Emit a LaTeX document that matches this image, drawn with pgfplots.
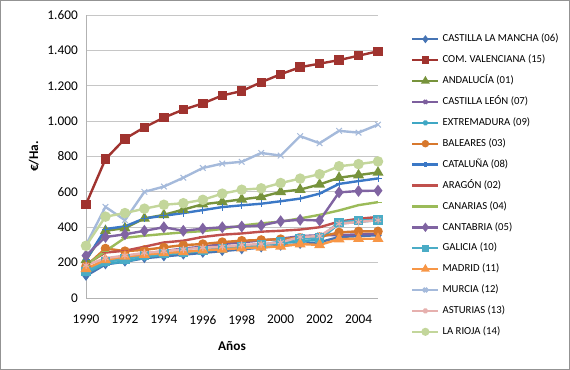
\documentclass[border=0pt]{standalone}
\usepackage{fontspec}
\setmainfont{Carlito}
\usepackage{pgfplots}
\usepackage{pgfplotstable}
\pgfplotsset{compat=1.18}
\definecolor{cclm}{HTML}{4674B4}
\definecolor{cval}{HTML}{A0332F}
\definecolor{cand}{HTML}{77933C}
\definecolor{ccyl}{HTML}{7D5F9E}
\definecolor{cext}{HTML}{3FA7C4}
\definecolor{cbal}{HTML}{D7782D}
\definecolor{ccat}{HTML}{3B78C6}
\definecolor{cara}{HTML}{C0504D}
\definecolor{ccan}{HTML}{9BBB59}
\definecolor{ccant}{HTML}{8064A2}
\definecolor{cgal}{HTML}{4BACC6}
\definecolor{cmad}{HTML}{F79646}
\definecolor{cmur}{HTML}{A5BADB}
\definecolor{cast}{HTML}{E6B0AE}
\definecolor{crio}{HTML}{C3D69B}
\pgfplotstableread{
year clm val and cyl ext bal cat ara can cant gal mad mur ast rio
1990 125 530 215 160 140 180 215 190 185 240 150 165 300 185 295
1991 190 785 380 215 195 280 390 257 265 345 205 215 515 225 460
1992 205 900 395 235 205 265 405 267 340 360 220 235 440 240 480
1993 225 965 450 250 230 272 450 290 352 380 240 245 600 255 505
1994 235 1020 470 265 245 286 465 314 362 400 250 255 630 265 527
1995 245 1065 500 280 255 299 480 324 371 380 260 260 680 275 536
1996 255 1100 530 290 265 305 497 345 378 392 270 270 735 285 555
1997 265 1145 543 305 275 316 514 358 390 400 280 275 760 290 590
1998 275 1170 558 315 285 324 524 365 410 404 290 282 770 300 612
1999 285 1220 571 325 300 328 533 375 422 410 300 286 820 305 620
2000 295 1265 600 335 310 333 547 380 432 434 320 292 805 315 650
2001 305 1305 613 350 320 340 562 387 450 442 335 305 915 345 675
2002 315 1325 642 355 330 345 590 400 470 438 340 300 875 350 700
2003 345 1345 680 355 420 371 645 432 495 597 428 333 945 420 745
2004 350 1370 695 360 430 377 661 448 525 605 438 335 935 430 757
2005 355 1395 710 362 440 377 676 458 542 607 440 335 980 440 772
}\datatab
\begin{document}
\begin{tikzpicture}
\useasboundingbox (0,0) rectangle (570bp,370bp);
\draw[gray!85, line width=0.8bp] (0.4bp,0.4bp) rectangle (569.6bp,369.6bp);
\begin{axis}[
  at={(86bp,72bp)}, anchor=south west,
  scale only axis, width=292bp, height=283bp,
  xmin=1990, xmax=2005, ymin=0, ymax=1600,
  ytick={0,200,...,1600}, xtick={1990,1992,...,2004},
  axis lines*=left,
  axis line style={draw=gray!60, line width=0.8bp},
  ymajorgrids, grid style={gray!45, line width=0.8bp},
  major tick length=0pt,
  clip=false,
  /pgf/number format/.cd, assume math mode=true, 1000 sep={.},
  /pgfplots/.cd,
  tick label style={font=\fontsize{13.3bp}{16bp}\selectfont},
  xticklabel style={/pgf/number format/1000 sep={}, anchor=north, inner sep=0pt, yshift=-17bp},
  yticklabel style={anchor=east, inner sep=0pt, xshift=-8bp},
  xlabel={Años}, ylabel={€/Ha.},
  label style={font=\bfseries\fontsize{13.3bp}{16bp}\selectfont},
  xlabel style={at={(axis description cs:0.5,0)}, anchor=base, yshift=-52bp},
  ylabel style={at={(axis description cs:0,0.5)}, anchor=base, yshift=48bp},
  every axis plot/.append style={line width=2.4bp},
  legend style={at={(1.113,0.9337)}, anchor=north west, draw=none, fill=none, inner sep=0pt,
    font=\fontsize{10.7bp}{12bp}\selectfont, row sep=10.4bp, column sep=3bp,
    nodes={inner sep=0pt, text height=8bp, text depth=2.5bp}},
  legend cell align=left,
  legend image code/.code={\draw[mark repeat=2, mark phase=2, mark options={scale=0.7}] plot coordinates {(0bp,0bp) (13bp,0bp) (26bp,0bp)};},
]
\addplot[color=cclm, mark=diamond*, mark size=3bp] table[x=year,y=clm]{\datatab};
\addlegendentry{CASTILLA LA MANCHA (06)}
\addplot[color=cval, mark=square*, mark size=3.5bp] table[x=year,y=val]{\datatab};
\addlegendentry{COM. VALENCIANA (15)}
\addplot[color=cand, mark=triangle*, mark size=4bp] table[x=year,y=and]{\datatab};
\addlegendentry{ANDALUCÍA (01)}
\addplot[color=ccyl, mark=x, mark size=3.5bp, mark options={line width=1bp}] table[x=year,y=cyl]{\datatab};
\addlegendentry{CASTILLA LEÓN (07)}
\addplot[color=cext, mark=asterisk, mark size=3.5bp, mark options={line width=1bp}] table[x=year,y=ext]{\datatab};
\addlegendentry{EXTREMADURA (09)}
\addplot[color=cbal, mark=*, mark size=3.5bp] table[x=year,y=bal]{\datatab};
\addlegendentry{BALEARES (03)}
\addplot[color=ccat, mark=+, mark size=3.5bp, mark options={line width=1bp}] table[x=year,y=cat]{\datatab};
\addlegendentry{CATALUÑA (08)}
\addplot[color=cara, mark=-, mark size=3.5bp, mark options={line width=1bp}] table[x=year,y=ara]{\datatab};
\addlegendentry{ARAGÓN (02)}
\addplot[color=ccan, mark=-, mark size=3.5bp, mark options={line width=1bp}] table[x=year,y=can]{\datatab};
\addlegendentry{CANARIAS (04)}
\addplot[color=ccant, mark=diamond*, mark size=4bp] table[x=year,y=cant]{\datatab};
\addlegendentry{CANTABRIA (05)}
\addplot[color=cgal, mark=square*, mark size=3.5bp] table[x=year,y=gal]{\datatab};
\addlegendentry{GALICIA (10)}
\addplot[color=cmad, mark=triangle*, mark size=4bp] table[x=year,y=mad]{\datatab};
\addlegendentry{MADRID (11)}
\addplot[color=cmur, mark=x, mark size=4bp, mark options={line width=1bp}] table[x=year,y=mur]{\datatab};
\addlegendentry{MURCIA (12)}
\addplot[color=cast, mark=asterisk, mark size=3.5bp, mark options={line width=1bp}] table[x=year,y=ast]{\datatab};
\addlegendentry{ASTURIAS (13)}
\addplot[color=crio, mark=*, mark size=4bp] table[x=year,y=rio]{\datatab};
\addlegendentry{LA RIOJA (14)}
\end{axis}
\end{tikzpicture}
\end{document}
